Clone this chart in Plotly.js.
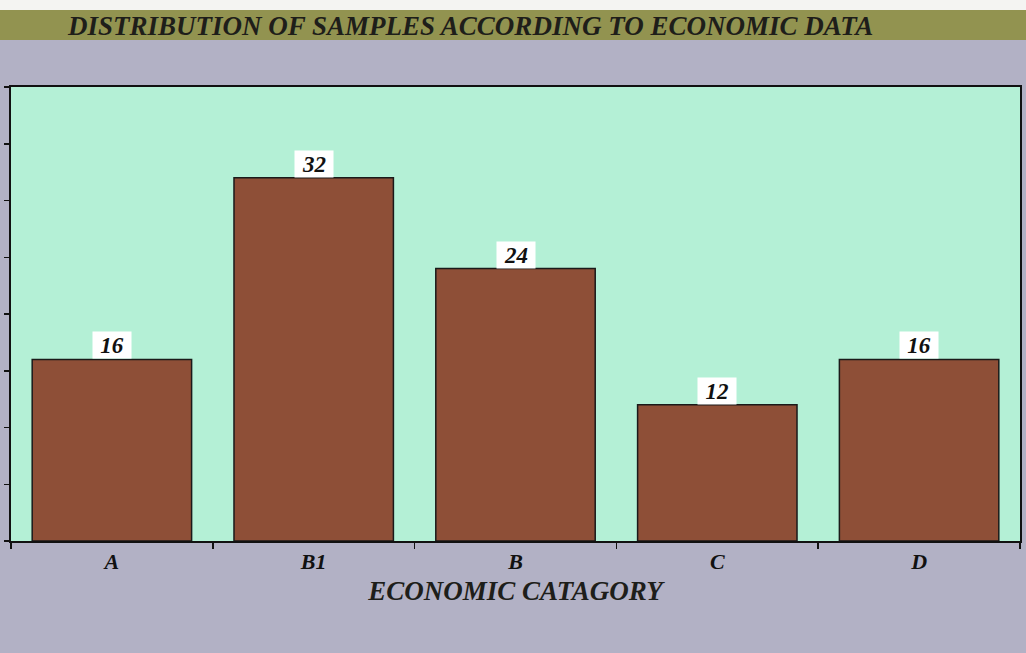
<!DOCTYPE html>
<html>
<head>
<meta charset="utf-8">
<script src="https://cdn.plot.ly/plotly-3.0.1.min.js"></script>
<style>html,body{margin:0;padding:0;background:#b2b1c5;}</style>
</head>
<body>
<div id="chart" style="width:1026px;height:653px;"></div>
<script>
var categories = ["A", "B1", "B", "C", "D"];
var counts = [16, 32, 24, 12, 16];
var chartTitle = "DISTRIBUTION OF SAMPLES ACCORDING TO ECONOMIC DATA";
var xTitle = "ECONOMIC CATAGORY";

var serif = "Liberation Serif, Times New Roman, serif";

var trace = {
  type: "bar",
  x: categories,
  y: counts,
  marker: {color: "#8e4f37", line: {color: "#1a1a1a", width: 1.5}},
  hoverinfo: "x+y"
};

var annotations = categories.map(function (c, i) {
  return {
    x: c, y: counts[i], xref: "x", yref: "y",
    text: "<b><i>" + counts[i] + "</i></b>",
    showarrow: false, xanchor: "center", yanchor: "bottom",
    bgcolor: "#ffffff", borderpad: 2, width: 34, height: 22,
    font: {family: serif, size: 23, color: "#111111"}
  };
});

var layout = {
  width: 1026, height: 653,
  margin: {l: 11, r: 6, t: 87, b: 112},
  paper_bgcolor: "#b2b1c5",
  plot_bgcolor: "#b4f0d6",
  title: {
    text: "<b><i>" + chartTitle + "</i></b>",
    x: 68 / 1026, xanchor: "left", xref: "container",
    y: 1 - 26 / 653, yanchor: "middle", yref: "container",
    font: {family: serif, size: 27, color: "#1e1e1a"}
  },
  bargap: 0.21,
  showlegend: false,
  xaxis: {
    type: "category",
    showline: true, linecolor: "#111111", linewidth: 2, mirror: true,
    ticks: "outside", tickson: "boundaries", ticklen: 6, tickcolor: "#111111", tickwidth: 1.5,
    tickfont: {family: serif, size: 22, color: "#111111"},
    ticklabelstandoff: 0,
    tickprefix: "<b><i>", ticksuffix: "</i></b>",
    title: {
      text: "<b><i>" + xTitle + "</i></b>",
      standoff: 8,
      font: {family: serif, size: 27, color: "#1e1e1a"}
    },
    fixedrange: true
  },
  yaxis: {
    range: [0, 40], dtick: 5,
    showline: true, linecolor: "#111111", linewidth: 2, mirror: true,
    ticks: "outside", ticklen: 5, tickcolor: "#111111", tickwidth: 1.5,
    showticklabels: false, showgrid: false, zeroline: false,
    fixedrange: true
  },
  shapes: [
    {type: "rect", xref: "paper", yref: "paper", x0: -0.02, x1: 1.02,
     y0: (541 - 10) / 454, y1: (541 - 0) / 454 + 0.01,
     fillcolor: "#f4f4f2", line: {width: 0}, layer: "below"},
    {type: "rect", xref: "paper", yref: "paper", x0: -0.02, x1: 1.02,
     y0: (541 - 40) / 454, y1: (541 - 10) / 454,
     fillcolor: "#929350", line: {width: 0}, layer: "below"}
  ],
  annotations: annotations
};

Plotly.newPlot("chart", [trace], layout, {displayModeBar: false, staticPlot: true});
</script>
</body>
</html>
